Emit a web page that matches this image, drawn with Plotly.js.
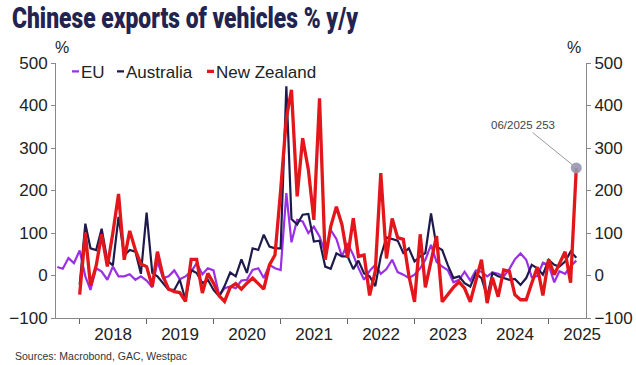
<!DOCTYPE html>
<html>
<head>
<meta charset="utf-8">
<script src="https://cdn.plot.ly/plotly-3.0.1.min.js"></script>
<style>
html, body { margin: 0; padding: 0; background: #ffffff; }
#chart { width: 636px; height: 365px; }
</style>
</head>
<body>
<div id="chart"></div>
<script>
// Monthly observations, Sep 2017 - Jun 2025
const months = [
  '2017-09','2017-10','2017-11','2017-12',
  '2018-01','2018-02','2018-03','2018-04','2018-05','2018-06','2018-07','2018-08','2018-09','2018-10','2018-11','2018-12',
  '2019-01','2019-02','2019-03','2019-04','2019-05','2019-06','2019-07','2019-08','2019-09','2019-10','2019-11','2019-12',
  '2020-01','2020-02','2020-03','2020-04','2020-05','2020-06','2020-07','2020-08','2020-09','2020-10','2020-11','2020-12',
  '2021-01','2021-02','2021-03','2021-04','2021-05','2021-06','2021-07','2021-08','2021-09','2021-10','2021-11','2021-12',
  '2022-01','2022-02','2022-03','2022-04','2022-05','2022-06','2022-07','2022-08','2022-09','2022-10','2022-11','2022-12',
  '2023-01','2023-02','2023-03','2023-04','2023-05','2023-06','2023-07','2023-08','2023-09','2023-10','2023-11','2023-12',
  '2024-01','2024-02','2024-03','2024-04','2024-05','2024-06','2024-07','2024-08','2024-09','2024-10','2024-11','2024-12',
  '2025-01','2025-02','2025-03','2025-04','2025-05','2025-06'
];

// EU, % y/y (from Sep 2017)
const euValues = [
  20, 16, 41, 29,
  59, -2, -34, 17, 9, -10, 21, -2, -2, 3, -10, -2,
  -12, -28, 33, -6, -2, 12, -9, -2, 9, 29, 3, 17,
  12, -47, -30, -26, -30, -12, -10, 13, 17, -6, 25, 17,
  13, 194, 78, 131, 127, 100, 115, 92, 54, 107, 86, 45,
  76, 48, 18, -10, 11, 25, 4, 15, 37, 8, 2, -6,
  2, 17, 37, 72, 32, 21, 13, -16, -10, 9, -12, 12,
  9, -2, 7, 4, -2, 15, 38, 52, 37, -4, -1, 30,
  25, -16, 10, 4, 22, 35
];

// Australia and New Zealand start in Jan 2018
const auMonths = months.slice(4);
const nzMonths = months.slice(4);

const auValues = [
  -22, 122, 64, 60, 110, 35, 24, 138, 47, 60, 56, 4,
  148, 6, -2, -18, -34, -34, -10, -57, 13, 6, -18, -10,
  -34, -49, -25, 7, -2, 38, 6, 64, 60, 96, 68, 64,
  64, 445, 133, 120, 143, 145, 80, 82, 21, 16, 52, 45,
  45, 15, 35, 5, -2, -25, 45, 90, 86, 82, 53, 64,
  33, 45, 53, 146, 68, 60, 25, -6, -2, -18, -26, 5,
  -6, -50, 6, -2, -6, -10, -8, -22, -6, 25, 17, 2,
  37, 25, 21, 33, 56, 42
];

const nzValues = [
  -45, 100, -24, 23, 97, 21, 100, 192, 37, 105, 60, 27,
  21, -26, 56, -2, -32, -38, -40, -61, 38, 38, -41, 5,
  -18, -48, -61, -28, -19, -32, -18, -6, -19, -32, 25, 48,
  200, 370, 437, 186, 323, 249, 131, 417, 37, 115, 162, 120,
  42, 135, 45, 48, -47, 10, 241, 40, 134, 89, 85, 0,
  -62, 97, -28, 35, 93, -62, -45, -28, -15, -30, -62, -10,
  37, -65, -5, -50, 13, 10, -45, -57, -57, -18, 20, -47,
  38, 2, 28, 56, -17, 253
];

const seriesNames = ['EU', 'Australia', 'New Zealand'];
const seriesColors = ['#9b2fe6', '#1e1b4b', '#e3161b'];
const highlightLabel = '06/2025';

const lastX = nzMonths[nzMonths.length - 1];
const lastY = nzValues[nzValues.length - 1];

const data = [
  { x: months, y: euValues, name: seriesNames[0], type: 'scatter', mode: 'lines',
    line: { color: seriesColors[0], width: 2.2 }, hoverinfo: 'skip' },
  { x: auMonths, y: auValues, name: seriesNames[1], type: 'scatter', mode: 'lines',
    line: { color: seriesColors[1], width: 2.2 }, hoverinfo: 'skip' },
  { x: nzMonths, y: nzValues, name: seriesNames[2], type: 'scatter', mode: 'lines',
    line: { color: seriesColors[2], width: 3.3 }, hoverinfo: 'skip' },
  { x: [lastX], y: [lastY], type: 'scatter', mode: 'markers', showlegend: false,
    marker: { size: 11, color: 'rgba(150,150,176,0.9)' }, hoverinfo: 'skip' },
  { x: [lastX], y: [lastY], type: 'scatter', mode: 'markers', showlegend: false,
    yaxis: 'y2', marker: { size: 1, color: 'rgba(0,0,0,0)' }, hoverinfo: 'skip' }
];

const tickFont = { family: 'Liberation Sans, Arial, sans-serif', size: 17, color: '#222222' };

const layout = {
  width: 636,
  height: 365,
  margin: { l: 56, r: 50, t: 63, b: 47, pad: 0 },
  paper_bgcolor: '#ffffff',
  plot_bgcolor: '#ffffff',
  title: {
    text: 'Chinese exports of vehicles % y/y',
    font: { family: 'Roboto, Liberation Sans, sans-serif', size: 29, weight: 900, color: '#23234f' },
    x: 12 / 636, xref: 'container', xanchor: 'left',
    y: 1 - 8 / 365, yref: 'container', yanchor: 'top'
  },
  showlegend: true,
  legend: {
    orientation: 'h', x: 0.02, y: 1.036, xanchor: 'left', yanchor: 'top',
    font: { family: 'Liberation Sans, Arial, sans-serif', size: 17, color: '#222222' },
    bgcolor: 'rgba(0,0,0,0)', itemwidth: 30, tracegroupgap: 0
  },
  xaxis: {
    type: 'date',
    range: ['2017-08-25', '2025-07-24'],
    tick0: '2018-01-01', dtick: 'M12', tickformat: '%Y', ticklabelmode: 'period',
    ticks: 'outside', ticklen: 5, tickwidth: 1, tickcolor: '#666666',
    showline: true, linecolor: '#888888', linewidth: 1,
    showgrid: false, zeroline: false, tickfont: tickFont
  },
  yaxis: {
    range: [-100, 500], dtick: 100, tick0: 0,
    ticks: 'outside', ticklen: 4, tickwidth: 1, tickcolor: '#888888',
    showline: true, linecolor: '#888888', linewidth: 1,
    showgrid: false, zeroline: false, tickfont: tickFont
  },
  yaxis2: {
    overlaying: 'y', side: 'right', anchor: 'x',
    range: [-100, 500], dtick: 100, tick0: 0,
    ticks: 'outside', ticklen: 4, tickwidth: 1, tickcolor: '#888888',
    showline: true, linecolor: '#888888', linewidth: 1,
    showgrid: false, zeroline: false, tickfont: tickFont
  },
  annotations: [
    { x: lastX, y: lastY, xref: 'x', yref: 'y',
      text: highlightLabel + ' ' + lastY, showarrow: true, arrowhead: 0,
      arrowwidth: 1, arrowcolor: '#9a9a9a', ax: -53, ay: -43, standoff: 5,
      font: { family: 'Liberation Sans, Arial, sans-serif', size: 11.5, color: '#444444' } },
    { text: '%', xref: 'paper', yref: 'paper', x: 0, y: 1, xshift: 6, yshift: 16,
      showarrow: false, xanchor: 'center', yanchor: 'middle',
      font: { family: 'Liberation Sans, Arial, sans-serif', size: 16, color: '#222222' } },
    { text: '%', xref: 'paper', yref: 'paper', x: 1, y: 1, xshift: -12, yshift: 16,
      showarrow: false, xanchor: 'center', yanchor: 'middle',
      font: { family: 'Liberation Sans, Arial, sans-serif', size: 16, color: '#222222' } },
    { text: 'Sources: Macrobond, GAC, Westpac', xref: 'paper', yref: 'paper',
      x: -43 / 530, y: 0, yshift: -38, xanchor: 'left', yanchor: 'middle', showarrow: false,
      font: { family: 'Liberation Sans Narrow, Liberation Sans, sans-serif', size: 10.5, color: '#333333' } }
  ]
};

Plotly.newPlot('chart', data, layout, { staticPlot: true, displayModeBar: false }).then(function (gd) {
  const title = gd.querySelector('.gtitle');
  if (title) {
    title.setAttribute('textLength', '346');
    title.setAttribute('lengthAdjust', 'spacingAndGlyphs');
  }
  // pull the year labels slightly closer to the axis, as in the reference
  gd.querySelectorAll('.xaxislayer-above g.xtick').forEach(function (g) {
    g.setAttribute('transform', 'translate(0,-4)');
  });
  const targets = [81, 126, 216];
  const items = gd.querySelectorAll('.legend .traces');
  items.forEach(function (g, i) {
    const p = g.querySelector('.legendlines path');
    if (p) p.setAttribute('d', 'M31,0h7');
    const t = g.querySelector('text.legendtext');
    if (!t || targets[i] === undefined) return;
    const r = t.getBoundingClientRect();
    const m = /translate\(\s*([-\d.]+)[\s,]+([-\d.]+)\s*\)/.exec(g.getAttribute('transform') || '');
    const x = m ? parseFloat(m[1]) : 0, y = m ? parseFloat(m[2]) : 0;
    g.setAttribute('transform', 'translate(' + (x + targets[i] - r.left) + ',' + y + ')');
  });
});
</script>
</body>
</html>
